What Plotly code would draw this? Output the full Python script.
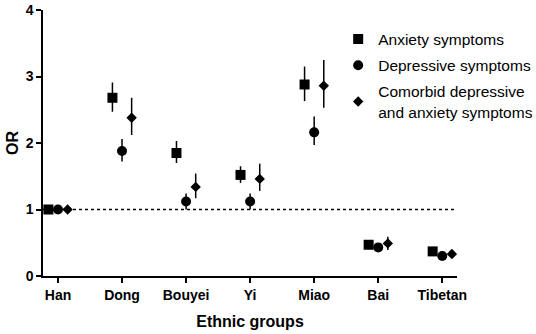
import plotly.graph_objects as go

groups = ["Han", "Dong", "Bouyei", "Yi", "Miao", "Bai", "Tibetan"]

anx = [1.0, 2.68, 1.85, 1.52, 2.88, 0.47, 0.37]
anx_lo = [1.0, 2.47, 1.70, 1.40, 2.63, 0.42, 0.33]
anx_hi = [1.0, 2.91, 2.03, 1.65, 3.15, 0.52, 0.41]

dep = [1.0, 1.88, 1.12, 1.12, 2.16, 0.43, 0.30]
dep_lo = [1.0, 1.72, 1.00, 1.00, 1.97, 0.39, 0.26]
dep_hi = [1.0, 2.06, 1.24, 1.24, 2.40, 0.48, 0.34]

com = [1.0, 2.38, 1.34, 1.46, 2.86, 0.49, 0.33]
com_lo = [1.0, 2.12, 1.17, 1.28, 2.53, 0.39, 0.28]
com_hi = [1.0, 2.68, 1.54, 1.69, 3.25, 0.59, 0.39]

names = ["Anxiety symptoms", "Depressive symptoms", "Comorbid depressive<br>and anxiety symptoms"]
symbols = ["square", "circle", "diamond"]
sizes = [10, 10, 8]
offsets = [-0.15, 0.0, 0.15]

fig = go.Figure()
idx = list(range(len(groups)))
for k, (vals, lo, hi, name, sym, sz, off) in enumerate(zip(
    [anx, dep, com], [anx_lo, dep_lo, com_lo], [anx_hi, dep_hi, com_hi],
    names, symbols, sizes, offsets)):
    fig.add_trace(go.Scatter(
        x=[i + off for i in idx], y=vals, mode="markers", name=name,
        legendgroup=f"g{k}",
        marker=dict(symbol=sym, size=sz, color="black"),
        error_y=dict(type="data", symmetric=False,
                     array=[h - v for h, v in zip(hi, vals)],
                     arrayminus=[v - l for v, l in zip(vals, lo)],
                     color="black", thickness=1.5, width=0),
    ))

fig.add_shape(type="line", xref="x", yref="y", x0=-0.234, x1=6.23, y0=1, y1=1,
              line=dict(color="black", width=1.5, dash="dot"), layer="below")

fig.update_layout(
    width=536, height=334,
    margin=dict(l=43, r=79, t=10, b=58, autoexpand=False),
    plot_bgcolor="white", paper_bgcolor="white",
    font=dict(family="Liberation Sans, Arial, sans-serif", color="black", size=14),
    showlegend=True,
    legend=dict(x=0.713, y=0.953, xanchor="left", yanchor="top",
                font=dict(size=15.5), bgcolor="rgba(0,0,0,0)",
                itemsizing="trace", tracegroupgap=3),
    xaxis=dict(range=[-0.234, 6.23], tickvals=idx, ticktext=[f"<b>{g}</b>" for g in groups],
               automargin=False,
               showgrid=False, zeroline=False, showline=True, linecolor="black", linewidth=1.5,
               ticks="outside", ticklen=5, tickwidth=1.5, tickcolor="black",
               tickfont=dict(size=14),
               title=dict(text="<b>Ethnic groups</b>", font=dict(size=16), standoff=14)),
    yaxis=dict(range=[0, 4], tickvals=[0, 1, 2, 3, 4], ticktext=["<b>0</b>", "<b>1</b>", "<b>2</b>", "<b>3</b>", "<b>4</b>"],
               automargin=False,
               showgrid=False, zeroline=False, showline=True, linecolor="black", linewidth=1.5,
               ticks="outside", ticklen=5, tickwidth=1.5, tickcolor="black",
               tickfont=dict(size=14),
               title=dict(text="<b>OR</b>", font=dict(size=16), standoff=3)),
)

fig.write_html("out.html", config={"displayModeBar": False},
               post_script="document.body.style.margin='0';")
